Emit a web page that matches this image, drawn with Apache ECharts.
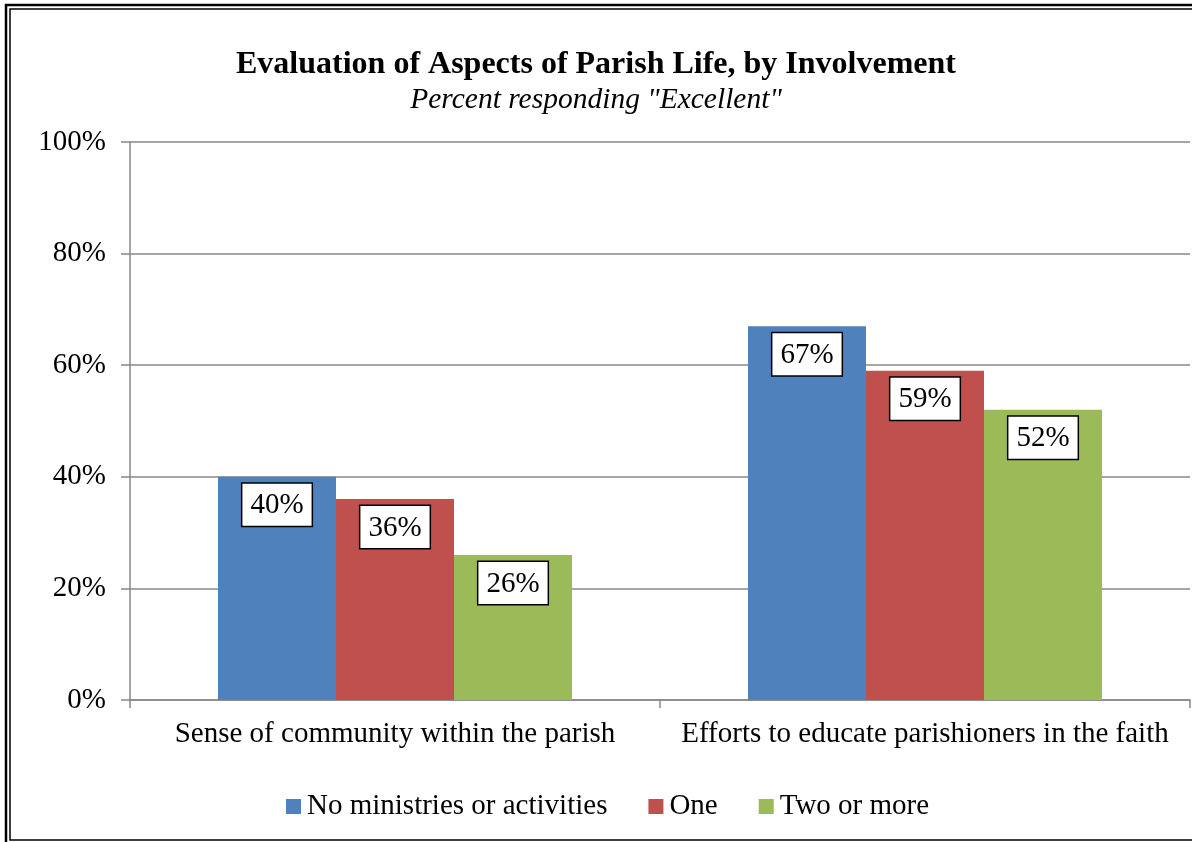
<!DOCTYPE html>
<html>
<head>
<meta charset="utf-8">
<script src="https://cdn.jsdelivr.net/npm/echarts@6/dist/echarts.min.js"></script>
<style>
  html, body { margin: 0; padding: 0; background: #fff; }
  #chart { width: 1192px; height: 842px; }
</style>
</head>
<body>
<div id="chart"></div>
<script>
// data
const categories = ['Sense of community within the parish', 'Efforts to educate parishioners in the faith'];
const seriesNames = ['No ministries or activities', 'One', 'Two or more'];
const noneValues = [40, 67];
const oneValues = [36, 59];
const twoPlusValues = [26, 52];
const colors = ['#4F81BD', '#C0504D', '#9BBB59'];

const font = 'Liberation Serif';

const labelStyle = {
  show: true,
  position: 'insideTop',
  distance: 7,
  formatter: '{c}%',
  color: '#000',
  fontFamily: font,
  fontSize: 29,
  lineHeight: 30,
  backgroundColor: '#fff',
  borderColor: '#000',
  borderWidth: 1.5,
  padding: [7, 8, 5, 8]
};

function makeSeries(name, data, color) {
  return {
    name: name,
    type: 'bar',
    data: data,
    barWidth: 118,
    barGap: '0%',
    itemStyle: { color: color },
    label: labelStyle,
    emphasis: { disabled: true }
  };
}

let chart = echarts.init(document.getElementById('chart'));
chart.setOption({
  animation: false,
  title: [
    {
      left: 'center',
      top: 44,
      text: 'Evaluation of Aspects of Parish Life, by Involvement',
      textStyle: { fontFamily: font, fontSize: 32, fontWeight: 'bold', color: '#000' }
    },
    {
      left: 'center',
      top: 80,
      text: 'Percent responding "Excellent"',
      textStyle: { fontFamily: font, fontSize: 29.5, fontStyle: 'italic', fontWeight: 'normal', color: '#000' }
    }
  ],
  legend: {
    bottom: 16,
    left: 281,
    itemWidth: 15,
    itemHeight: 15,
    itemGap: 41,
    icon: 'rect',
    textStyle: { fontFamily: font, fontSize: 29, color: '#000', padding: [0, 0, 0, 1] },
    data: seriesNames
  },
  grid: { left: 130, right: 2, top: 142, bottom: 142 },
  xAxis: {
    type: 'category',
    data: categories,
    axisLine: { lineStyle: { color: '#888', width: 1.5 } },
    axisTick: { show: true, length: 8, lineStyle: { color: '#888', width: 1.5 } },
    axisLabel: { interval: 0, hideOverlap: false, fontFamily: font, fontSize: 29, color: '#000', margin: 20 }
  },
  yAxis: {
    type: 'value',
    min: 0,
    max: 100,
    interval: 20,
    axisLine: { show: true, lineStyle: { color: '#888', width: 1.5 } },
    axisTick: { show: true, length: 9, lineStyle: { color: '#888', width: 1.5 } },
    splitLine: { lineStyle: { color: '#888', width: 1.5 } },
    axisLabel: { formatter: '{value}%', fontFamily: font, fontSize: 29, color: '#000', margin: 24 }
  },
  graphic: [
    { type: 'rect', shape: { x: 6, y: 5, width: 1200, height: 850 }, style: { fill: 'none', stroke: '#000', lineWidth: 2.5 }, silent: true },
    { type: 'rect', shape: { x: 10, y: 9, width: 1200, height: 831 }, style: { fill: 'none', stroke: '#000', lineWidth: 1.5 }, silent: true }
  ],
  series: [
    makeSeries(seriesNames[0], noneValues, colors[0]),
    makeSeries(seriesNames[1], oneValues, colors[1]),
    makeSeries(seriesNames[2], twoPlusValues, colors[2])
  ]
});
</script>
</body>
</html>
